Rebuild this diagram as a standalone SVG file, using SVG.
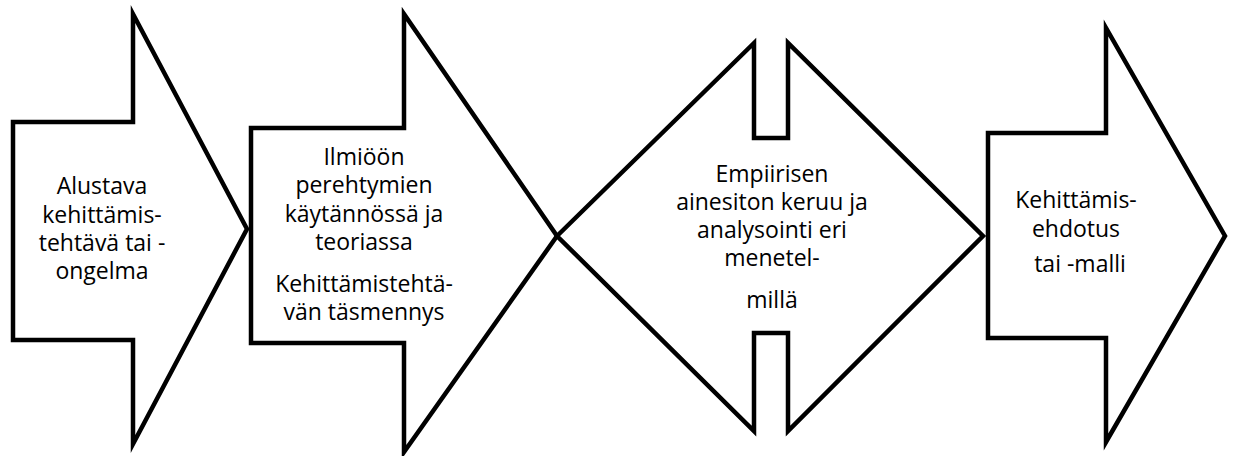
<svg xmlns="http://www.w3.org/2000/svg" width="1235" height="456" viewBox="0 0 1235 456">
<style>
.shape{fill:#ffffff;stroke:#000000;stroke-width:4.5;stroke-linejoin:miter;stroke-miterlimit:10}
.t{font-family:"Open Sans","Liberation Sans",sans-serif;font-size:23px;fill:#000000;text-anchor:middle}
</style>
<rect width="1235" height="456" fill="#ffffff"/>
<g id="connectors"></g>
<g id="node1">
<polygon class="shape" points="13,122 133,122 133,14 247,229 133,444 133,340 13,340"/>
<text class="t" x="102" y="194">Alustava</text>
<text class="t" x="102" y="223">kehittämis-</text>
<text class="t" x="102" y="251">tehtävä tai -</text>
<text class="t" x="102" y="279">ongelma</text>
</g>
<g id="node2">
<polygon class="shape" points="251,128 404,128 404,14 557,236 404,452 404,343 251,343"/>
<text class="t" x="364" y="165">Ilmiöön</text>
<text class="t" x="364" y="193">perehtymien</text>
<text class="t" x="364" y="222">käytännössä ja</text>
<text class="t" x="364" y="250">teoriassa</text>
<text class="t" x="364" y="292">Kehittämistehtä-</text>
<text class="t" x="364" y="320">vän täsmennys</text>
</g>
<g id="node3">
<polygon class="shape" points="557,236 754,43 754,138 788,138 788,43 983,236 788,431 788,333 754,333 754,431"/>
<text class="t" x="772" y="182">Empiirisen</text>
<text class="t" x="772" y="210">ainesiton keruu ja</text>
<text class="t" x="772" y="238">analysointi eri</text>
<text class="t" x="772" y="266">menetel-</text>
<text class="t" x="772" y="308">millä</text>
</g>
<g id="node4">
<polygon class="shape" points="988,133 1106,133 1106,28 1225,236 1106,442 1106,338 988,338"/>
<text class="t" x="1076" y="208">Kehittämis-</text>
<text class="t" x="1076" y="237">ehdotus</text>
<text class="t" x="1080" y="272">tai -malli</text>
</g>
</svg>
